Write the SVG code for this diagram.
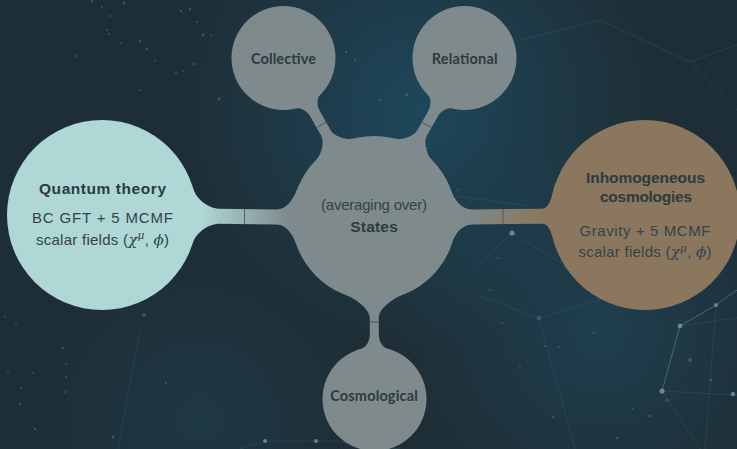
<svg xmlns="http://www.w3.org/2000/svg" width="737" height="449" viewBox="0 0 737 449">
  <defs>
    <style>
      .title{font-family:"Liberation Sans",Arial,sans-serif;font-weight:bold;font-size:15.5px;fill:#2d3b41;text-anchor:middle}
      .body{font-family:"Liberation Sans",Arial,sans-serif;font-size:15px;fill:#33434a;text-anchor:middle}
      .lbl{font-family:Lato,"Open Sans",sans-serif;font-weight:bold;font-size:14.5px;fill:#2d3a40;text-anchor:middle}
      .mi{font-family:"DejaVu Serif","Liberation Serif",serif;font-style:italic}
      .seam{stroke:#3f5055;stroke-width:0.8;fill:none}
      .net{stroke:#2b6680;stroke-width:1;fill:none;opacity:0.35}
      .netb{stroke:#7a939c;stroke-width:1;fill:none;opacity:0.5}
      .dot{fill:#3e8096;opacity:0.5}
      .node-b{fill:#95a9ae;opacity:0.65}
      .grey{fill:#7f8a8c}
    </style>
    <radialGradient id="glowTop" cx="420" cy="110" r="240" gradientUnits="userSpaceOnUse">
      <stop offset="0" stop-color="#1e4a5f" stop-opacity="0.9"/>
      <stop offset="1" stop-color="#1e4a5f" stop-opacity="0"/>
    </radialGradient>
    <radialGradient id="glowRight" cx="600" cy="330" r="200" gradientUnits="userSpaceOnUse">
      <stop offset="0" stop-color="#1f4659" stop-opacity="0.7"/>
      <stop offset="1" stop-color="#1f4659" stop-opacity="0"/>
    </radialGradient>
    <radialGradient id="glowLeft" cx="200" cy="420" r="160" gradientUnits="userSpaceOnUse">
      <stop offset="0" stop-color="#1f3f4f" stop-opacity="0.6"/>
      <stop offset="1" stop-color="#1f3f4f" stop-opacity="0"/>
    </radialGradient>
    <!-- bar shadings, in each bar's own rotated frame -->
    <linearGradient id="barLeft" gradientUnits="userSpaceOnUse" x1="100" y1="0" x2="186" y2="0">
      <stop offset="0" stop-color="#aed7d6"/>
      <stop offset="1" stop-color="#7f8a8c"/>
    </linearGradient>
    <linearGradient id="barRight" gradientUnits="userSpaceOnUse" x1="86" y1="0" x2="172" y2="0">
      <stop offset="0" stop-color="#7f8a8c"/>
      <stop offset="1" stop-color="#8a775e"/>
    </linearGradient>
  </defs>

  <!-- backdrop -->
  <g id="backdrop">
    <rect width="737" height="449" fill="#1e2e36"/>
    <rect width="737" height="449" fill="url(#glowTop)"/>
    <rect width="737" height="449" fill="url(#glowRight)"/>
    <rect width="737" height="449" fill="url(#glowLeft)"/>
    <path class="net" d="M480,296 L539,318 L600,300 M539,318 L575,449 M455,196 L530,206 M512,233 L470,272 M512,233 L560,262 L620,250 M600,300 L690,285 M680,326 L737,318 M662,391 L737,395 M662,391 L700,449 M716,305 L705,449 M560,262 L600,300 M265,441 L330,441 L400,449 M265,441 L240,449 M140,330 L118,449 M600,20 L690,62 L737,45 M690,62 L737,110 M520,40 L600,20"/>
    <path class="netb" d="M662,391 L680,326 L716,305 L737,290"/>
    <g class="node-b">
      <circle cx="662" cy="391" r="2.6"/>
      <circle cx="680" cy="326" r="2.4"/>
      <circle cx="716" cy="305" r="2"/>
      <circle cx="733" cy="394" r="2.2"/>
      <circle cx="512" cy="233" r="2.6"/>
      <circle cx="265" cy="441" r="2"/>
      <circle cx="316" cy="441" r="2"/>
    </g>
    <g class="dot">
      <circle cx="92" cy="1" r="1.2"/><circle cx="102" cy="7" r="1"/><circle cx="124" cy="3" r="1.5"/>
      <circle cx="110" cy="16" r="1"/><circle cx="107" cy="30" r="1"/><circle cx="109" cy="34" r="1"/>
      <circle cx="121" cy="43" r="1"/><circle cx="140" cy="41" r="1.2"/><circle cx="147" cy="49" r="1.2"/>
      <circle cx="155" cy="61" r="1"/><circle cx="176" cy="73" r="1"/><circle cx="183" cy="71" r="1"/>
      <circle cx="194" cy="64" r="1.2"/><circle cx="203" cy="35" r="1.5"/><circle cx="190" cy="9" r="1.2"/>
      <circle cx="197" cy="22" r="1"/><circle cx="211" cy="35" r="1"/><circle cx="219" cy="99" r="1.5"/>
      <circle cx="140" cy="90" r="1"/><circle cx="76" cy="56" r="1"/><circle cx="181" cy="11" r="1.2"/>
      <circle cx="5" cy="317" r="1"/><circle cx="16" cy="325" r="1"/><circle cx="63" cy="348" r="1.2"/>
      <circle cx="66" cy="364" r="1"/><circle cx="8" cy="373" r="1"/><circle cx="21" cy="388" r="1"/>
      <circle cx="33" cy="373" r="1"/><circle cx="66" cy="377" r="1"/><circle cx="65" cy="392" r="1"/>
      <circle cx="20" cy="404" r="1.2"/><circle cx="56" cy="416" r="1"/><circle cx="35" cy="429" r="1.2"/>
      <circle cx="144" cy="315" r="2"/><circle cx="166" cy="383" r="1"/><circle cx="113" cy="437" r="1.5"/>
      <circle cx="490" cy="290" r="1"/><circle cx="539" cy="318" r="2.2"/><circle cx="502" cy="323" r="1"/>
      <circle cx="559" cy="347" r="1"/><circle cx="545" cy="346" r="1"/><circle cx="520" cy="366" r="1"/>
      <circle cx="553" cy="417" r="1.2"/><circle cx="633" cy="409" r="1"/><circle cx="617" cy="438" r="1.2"/>
      <circle cx="667" cy="400" r="1.5"/><circle cx="650" cy="416" r="1.5"/><circle cx="711" cy="380" r="1.5"/>
      <circle cx="594" cy="333" r="1"/><circle cx="690" cy="360" r="2"/><circle cx="407" cy="95" r="1.5"/>
      <circle cx="380" cy="100" r="1.2"/><circle cx="346" cy="52" r="1.2"/><circle cx="355" cy="60" r="1"/>
      <circle cx="427" cy="148" r="1"/><circle cx="498" cy="258" r="1"/><circle cx="458" cy="190" r="1"/>
    </g>
  </g>

  <!-- bars joining the concepts -->
  <g id="connectors">
    <!-- quantum theory to states -->
    <g transform="translate(102,215) rotate(0.632)">
      <path fill="url(#barLeft)" d="M91.08,-26.98 C93.9,-17.4 106,-7.5 118,-7.5 L175,-7.5 C185,-7.5 191.5,-18.65 194.95,-28.05 L272,0 L194.95,28.05 C191.5,18.65 185,7.5 175,7.5 L118,7.5 C106,7.5 93.9,17.4 91.08,26.98 L0,0 Z"/>
      <line class="seam" x1="142.5" y1="-7.5" x2="142.5" y2="7.5"/>
    </g>
    <!-- states to inhomogeneous cosmologies -->
    <g transform="translate(374,218) rotate(-0.634)">
      <path fill="url(#barRight)" d="M77.99,-25.34 C80.77,-16.78 88,-7.5 98,-7.5 L168,-7.5 C177,-7.5 178.3,-23.1 181.73,-32.49 L271,0 L181.73,32.49 C178.3,23.1 177,7.5 168,7.5 L98,7.5 C88,7.5 80.77,16.78 77.99,25.34 L0,0 Z"/>
      <line class="seam" x1="129" y1="-7.5" x2="129" y2="7.5"/>
    </g>
    <!-- collective to states -->
    <g transform="translate(283.5,58) rotate(60.5)">
      <path class="grey" d="M50.23,-13.46 C51.3,-9.6 57,-5.5 64,-5.5 L86,-5.5 C94,-5.5 103.05,-15.4 104.6,-21.22 L183.8,0 L104.6,21.22 C103.05,15.4 94,5.5 86,5.5 L64,5.5 C57,5.5 51.3,9.6 50.23,13.46 L0,0 Z"/>
      <line class="seam" x1="76.9" y1="-5.5" x2="76.9" y2="5.5"/>
    </g>
    <!-- relational to states -->
    <g transform="translate(464.5,58) rotate(119.5)">
      <path class="grey" d="M50.23,-13.46 C51.3,-9.6 57,-5.5 64,-5.5 L86,-5.5 C94,-5.5 103.05,-15.4 104.6,-21.22 L183.8,0 L104.6,21.22 C103.05,15.4 94,5.5 86,5.5 L64,5.5 C57,5.5 51.3,9.6 50.23,13.46 L0,0 Z"/>
      <line class="seam" x1="76.9" y1="-5.5" x2="76.9" y2="5.5"/>
    </g>
    <!-- states to cosmological -->
    <g transform="translate(374,218) rotate(89.84)">
      <path class="grey" d="M77.05,-28.05 C79.8,-20.5 90,-4.5 100,-4.5 L117,-4.5 C122,-4.5 129.3,-7.7 130.54,-12.58 L181,0 L130.54,12.58 C129.3,7.7 122,4.5 117,4.5 L100,4.5 C90,4.5 79.8,20.5 77.05,28.05 L0,0 Z"/>
      <line class="seam" x1="104" y1="-4.5" x2="104" y2="4.5"/>
    </g>
  </g>

  <g id="node-quantum-theory">
    <circle cx="102" cy="215" r="95" fill="#aed7d6"/>
    <text class="title" x="102.5" y="194" textLength="127">Quantum theory</text>
    <text class="body" x="102.5" y="222.5" textLength="141">BC GFT + 5 MCMF</text>
    <text class="body" x="102.5" y="244.5" textLength="133">scalar fields (<tspan class="mi">χ</tspan><tspan class="mi" font-size="10.5" dy="-5.5">μ</tspan><tspan dy="5.5">, </tspan><tspan class="mi">ϕ</tspan>)</text>
  </g>

  <g id="node-states">
    <circle cx="374" cy="218" r="82" fill="#7f8a8c"/>
    <text class="body" x="374" y="210" font-size="14.5" textLength="106">(averaging over)</text>
    <text class="title" x="374" y="232" textLength="47.5">States</text>
  </g>

  <g id="node-inhomogeneous-cosmologies">
    <circle cx="645" cy="215" r="95" fill="#8a775e"/>
    <text class="title" x="645.5" y="182.5" textLength="119">Inhomogeneous</text>
    <text class="title" x="646" y="202" textLength="92">cosmologies</text>
    <text class="body" x="645" y="236" textLength="131">Gravity + 5 MCMF</text>
    <text class="body" x="645" y="257" textLength="133">scalar fields (<tspan class="mi">χ</tspan><tspan class="mi" font-size="10.5" dy="-5.5">μ</tspan><tspan dy="5.5">, </tspan><tspan class="mi">ϕ</tspan>)</text>
  </g>

  <g id="node-collective">
    <circle cx="283.5" cy="58" r="52" fill="#7f8a8c"/>
    <text class="lbl" x="283.5" y="64" textLength="65">Collective</text>
  </g>

  <g id="node-relational">
    <circle cx="464.5" cy="58" r="52" fill="#7f8a8c"/>
    <text class="lbl" x="464.7" y="64" textLength="66">Relational</text>
  </g>

  <g id="node-cosmological">
    <circle cx="374.5" cy="399" r="52" fill="#7f8a8c"/>
    <text class="lbl" x="374" y="400.5" textLength="87.5">Cosmological</text>
  </g>
</svg>
